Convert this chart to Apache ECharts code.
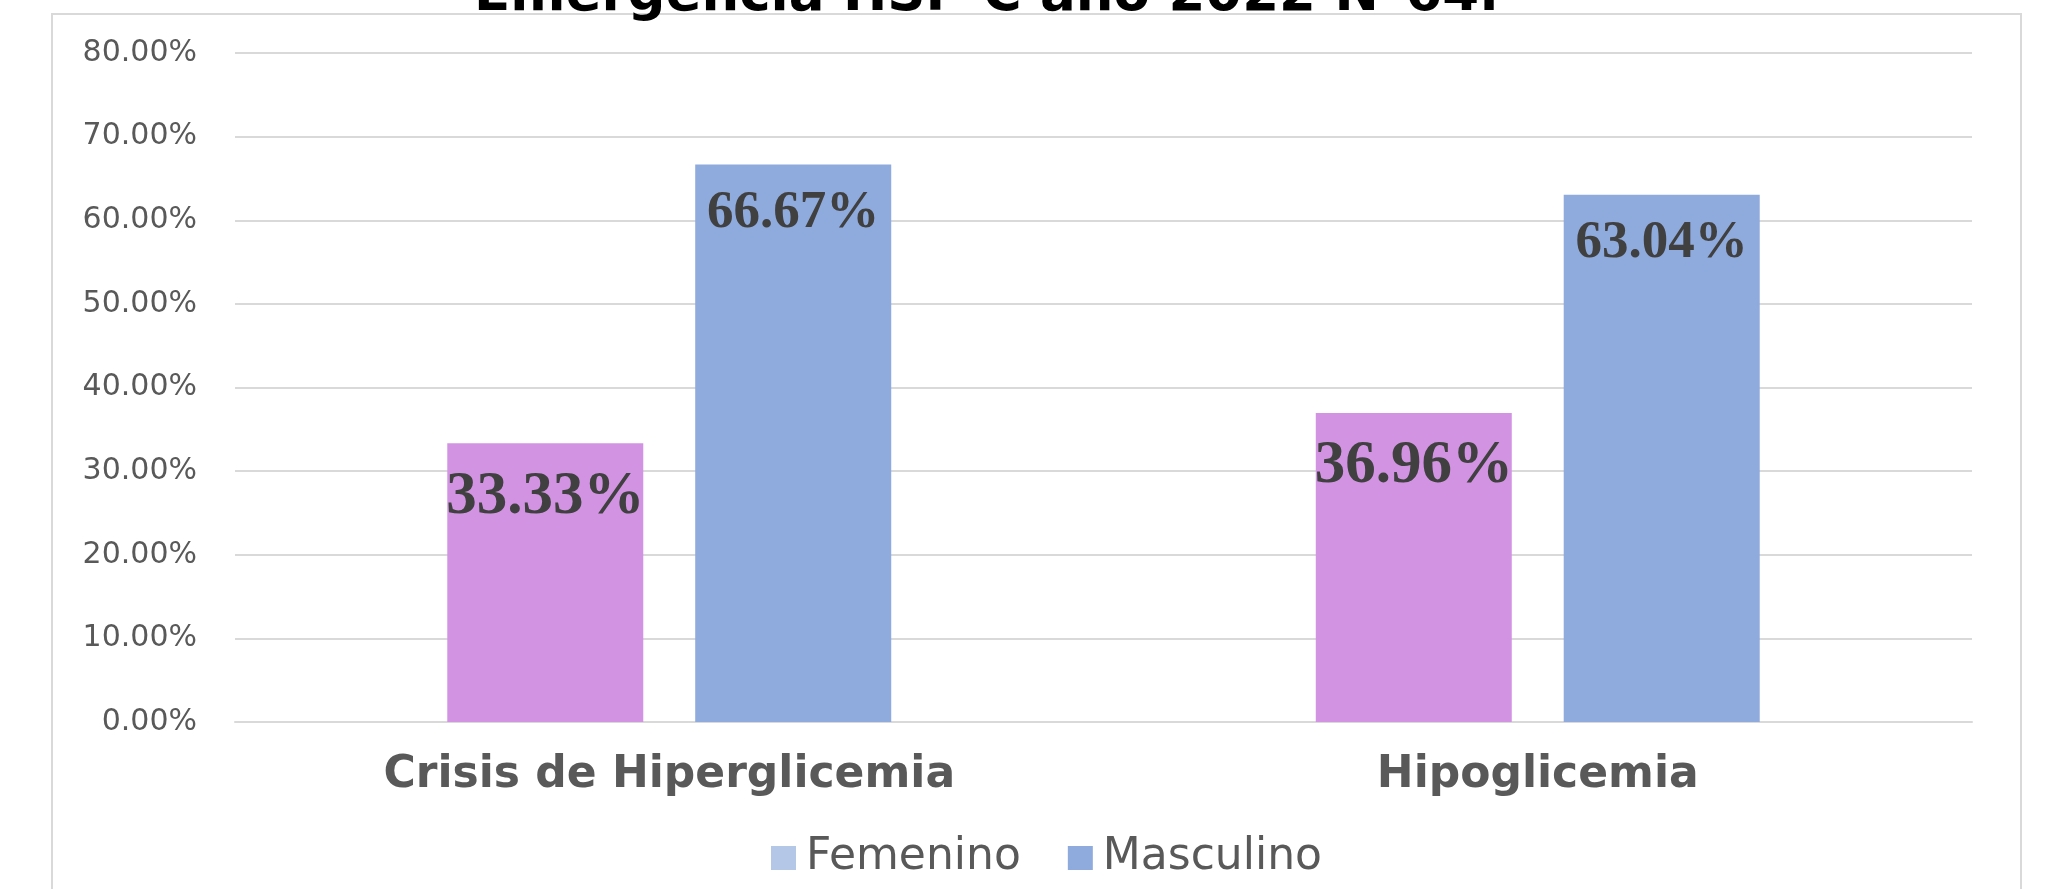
<!DOCTYPE html>
<html>
<head>
<meta charset="utf-8">
<script src="https://cdn.jsdelivr.net/npm/echarts@6/dist/echarts.min.js"></script>
<style>
html,body{margin:0;padding:0;background:#fff;}
#chart{width:2048px;height:889px;}
</style>
</head>
<body>
<div id="chart"></div>
<script>
const titleText = 'Emergencia HSP C año 2022 N°64.';
const categories = ['Crisis de Hiperglicemia', 'Hipoglicemia'];
const seriesNames = ['Femenino', 'Masculino'];
const femenino = [0.3333, 0.3696];
const masculino = [0.6667, 0.6304];
const yTicks = [0, 0.1, 0.2, 0.3, 0.4, 0.5, 0.6, 0.7, 0.8];

const chart = echarts.init(document.getElementById('chart'), null, {renderer: 'canvas'});

function barLabel(size, dist) {
  return {
    show: true,
    position: 'insideTop',
    distance: dist,
    color: '#404040',
    fontFamily: 'Liberation Serif',
    fontWeight: 'bold',
    fontSize: size,
    formatter: p => (p.value * 100).toFixed(2) + '%'
  };
}

const option = {
  backgroundColor: '#ffffff',
  animation: false,
  title: {
    text: titleText,
    left: 469,
    top: -35,
    textStyle: {fontFamily: 'DejaVu Sans', fontWeight: 'bold', fontSize: 53, color: '#000000'}
  },
  graphic: [{
    type: 'rect',
    z: -10,
    shape: {x: 52, y: 14, width: 1969, height: 900},
    style: {fill: 'none', stroke: '#d9d9d9', lineWidth: 2}
  }],
  legend: {
    data: [
      {name: seriesNames[0], itemStyle: {color: '#B4C7E7'}},
      {name: seriesNames[1], itemStyle: {color: '#8FAADC'}}
    ],
    left: 771,
    top: 836,
    padding: 0,
    icon: 'rect',
    itemWidth: 25,
    itemHeight: 24,
    itemGap: 47,
    textStyle: {fontFamily: 'DejaVu Sans', fontSize: 44, color: '#595959', padding: [0, 0, 0, 5]}
  },
  grid: {left: 235, right: 76, top: 53, bottom: 167, containLabel: false},
  xAxis: {
    type: 'category',
    data: categories,
    axisLine: {show: true, lineStyle: {color: '#d9d9d9', width: 2}},
    axisTick: {show: false},
    axisLabel: {
      margin: 32,
      fontFamily: 'DejaVu Sans',
      fontWeight: 'bold',
      fontSize: 44,
      color: '#595959'
    }
  },
  yAxis: {
    type: 'value',
    min: yTicks[0],
    max: yTicks[yTicks.length - 1],
    interval: 0.1,
    axisLine: {show: false},
    axisTick: {show: false},
    splitLine: {lineStyle: {color: '#d9d9d9', width: 2}},
    axisLabel: {
      margin: 38,
      fontFamily: 'DejaVu Sans',
      fontSize: 30,
      color: '#595959',
      padding: [4, 0, 0, 0],
      formatter: v => (v * 100).toFixed(2) + '%'
    }
  },
  series: [
    {
      name: seriesNames[0],
      type: 'bar',
      data: femenino,
      barWidth: 196,
      barGap: '26.5%',
      itemStyle: {color: '#D293E3'},
      label: barLabel(61, 23)
    },
    {
      name: seriesNames[1],
      type: 'bar',
      data: masculino,
      barWidth: 196,
      barGap: '26.5%',
      itemStyle: {color: '#8FAADC'},
      label: barLabel(53, 22)
    }
  ]
};
chart.setOption(option);
</script>
</body>
</html>
